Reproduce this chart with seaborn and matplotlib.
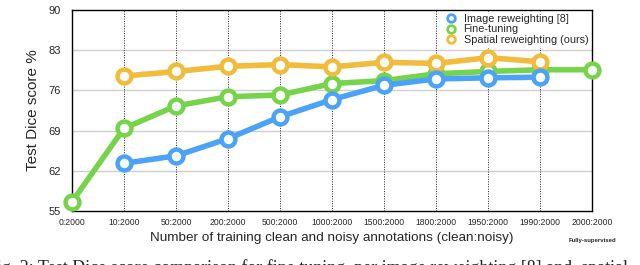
import matplotlib
matplotlib.use("Agg")
import matplotlib.pyplot as plt
from matplotlib.lines import Line2D
import seaborn as sns
import pandas as pd
import numpy as np

categories = ["0:2000", "10:2000", "50:2000", "200:2000", "500:2000", "1000:2000",
              "1500:2000", "1800:2000", "1950:2000", "1990:2000", "2000:2000"]
image_rw = [None, 63.3, 64.6, 67.6, 71.4, 74.4, 76.9, 78.0, 78.2, 78.3, None]
fine_tuning = [56.6, 69.4, 73.3, 74.9, 75.2, 77.2, 77.7, 78.9, 79.3, 79.6, 79.6]
spatial_rw = [None, 78.5, 79.3, 80.2, 80.5, 80.1, 80.9, 80.7, 81.7, 81.0, None]
y_ticks = [55, 62, 69, 76, 83, 90]

series_names = ["Image reweighting [8]", "Fine-tuning", "Spatial reweighting (ours)"]
series_vals = [image_rw, fine_tuning, spatial_rw]
colors = ["#4ba3f7", "#76d44b", "#f1bb3c"]

sns.set_style("white")
plt.rcParams['font.family'] = ['Liberation Sans', 'DejaVu Sans']

fig = plt.figure(figsize=(6.4, 2.65), dpi=100)
ax = fig.add_axes([0.1125, 0.204, 0.8125, 0.758])

# grid
for yt in y_ticks[1:-1]:
    ax.axhline(yt, color="#d0d0d0", lw=1.0, zorder=0)
for i in range(1, len(categories) - 1):
    ax.axvline(i, color="#222222", lw=0.7, ls=(0, (1, 1.5)), zorder=0)

draw_order = [1, 2, 0]
for k in draw_order:
    df = pd.DataFrame({"x": np.arange(len(categories)), "y": series_vals[k]}).dropna()
    df["y"] = df["y"].astype(float)
    sns.lineplot(data=df, x="x", y="y", ax=ax, color=colors[k], lw=4.0,
                 marker="o", markersize=10, markerfacecolor="white",
                 markeredgecolor=colors[k], markeredgewidth=3.2,
                 zorder=3 + draw_order.index(k), clip_on=False)

ax.set_xlim(0, len(categories) - 1)
ax.set_ylim(55, 90)
ax.set_yticks(y_ticks)
ax.set_yticklabels([str(v) for v in y_ticks], fontsize=8)
ax.set_xticks(np.arange(len(categories)))
ax.set_xticklabels(categories, fontsize=6.2)
ax.tick_params(axis="y", length=0, pad=8)
ax.tick_params(axis="x", length=0, pad=5)
ax.set_xlabel("Number of training clean and noisy annotations (clean:noisy)", fontsize=9.7, labelpad=4)
ax.set_ylabel("Test Dice score %", fontsize=11, labelpad=6)

for s in ax.spines.values():
    s.set_color("black")
    s.set_linewidth(1.0)
    s.set_visible(True)

ax.text(len(categories) - 1, -0.135, "Fully-supervised", transform=ax.get_xaxis_transform(),
        ha="center", va="top", fontsize=4.3, fontweight="bold")

handles = [Line2D([], [], ls="none", marker="o", markersize=5.5, markerfacecolor="white",
                  markeredgecolor=c, markeredgewidth=2.0) for c in colors]
leg = ax.legend(handles, series_names, loc="upper right", fontsize=7.8, frameon=True,
                handletextpad=0.2, borderpad=0.2, labelspacing=0.05, borderaxespad=0.15,
                fancybox=False, framealpha=1)
leg.get_frame().set_edgecolor("white")
leg.set_zorder(10)

fig.text(-0.02, -0.045, "Fig. 2: Test Dice score comparison for fine tuning, per image reweighting [8] and  spatial",
         fontsize=13, family=["Liberation Serif", "DejaVu Serif"], ha="left", va="bottom")

fig.savefig("out.png", dpi=100)
